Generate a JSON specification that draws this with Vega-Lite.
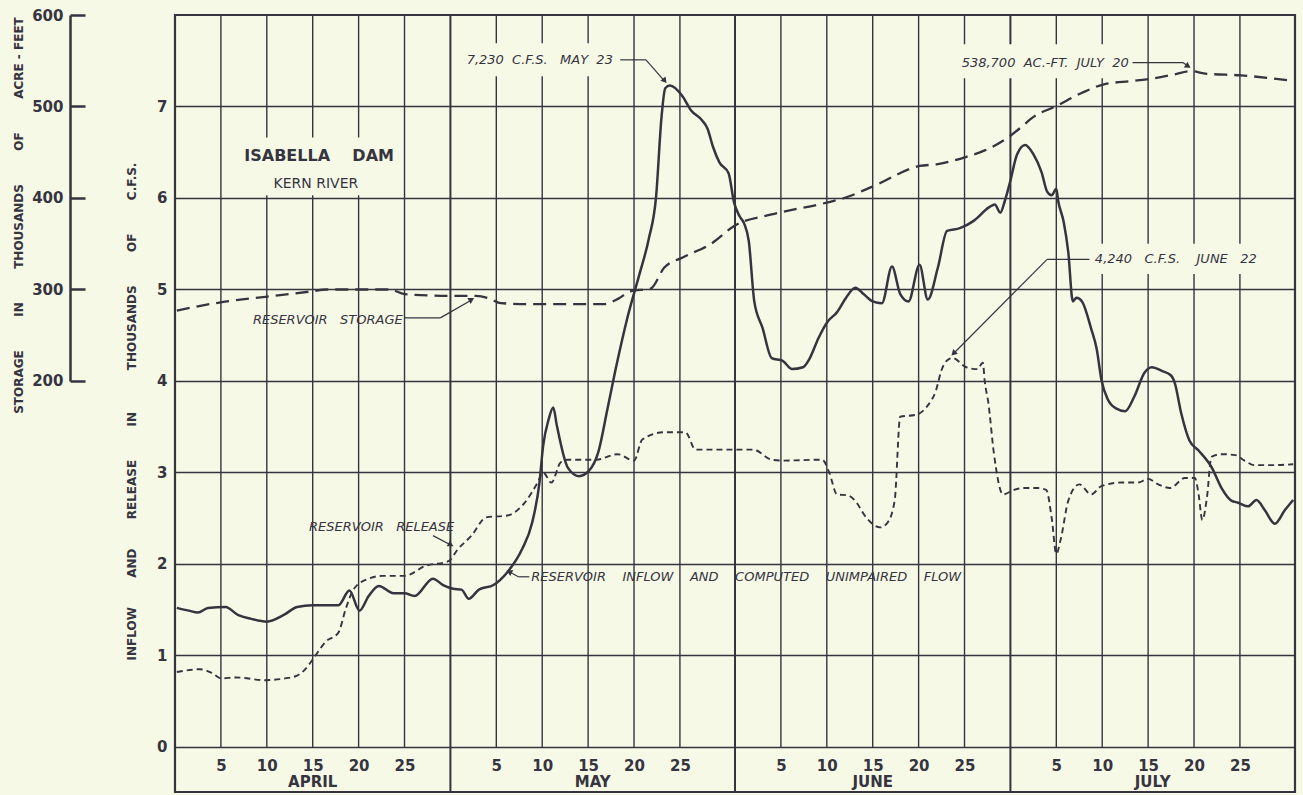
{
  "$schema": "https://vega.github.io/schema/vega-lite/v6.json",
  "width": 1120,
  "height": 777,
  "autosize": "none",
  "padding": {"left": 175, "top": 15, "right": 8, "bottom": 3},
  "background": "#f7f9e7",
  "config": {
    "view": {"stroke": "#35343f", "strokeWidth": 2.2},
    "font": "DejaVu Sans"
  },
  "datasets": {
    "dayTicks": [{"day": 5}, {"day": 10}, {"day": 15}, {"day": 20}, {"day": 25}, {"day": 35}, {"day": 40}, {"day": 45}, {"day": 50}, {"day": 55}, {"day": 66}, {"day": 71}, {"day": 76}, {"day": 81}, {"day": 86}, {"day": 96}, {"day": 101}, {"day": 106}, {"day": 111}, {"day": 116}],
    "monthEdges": [{"day": 30}, {"day": 61}, {"day": 91}],
    "months": [{"month": "APRIL", "mid": 15}, {"month": "MAY", "mid": 45.5}, {"month": "JUNE", "mid": 76}, {"month": "JULY", "mid": 106.5}],
    "inflow": [
      {"day": 0.2, "cfs": 1.52}, {"day": 1.5, "cfs": 1.49}, {"day": 2.5, "cfs": 1.47}, {"day": 3.6, "cfs": 1.52}, {"day": 5.5, "cfs": 1.53}, {"day": 6.9, "cfs": 1.44}, {"day": 8.3, "cfs": 1.40}, {"day": 10, "cfs": 1.37}, {"day": 11.8, "cfs": 1.44}, {"day": 13.3, "cfs": 1.53}, {"day": 15, "cfs": 1.55}, {"day": 17.8, "cfs": 1.55}, {"day": 19, "cfs": 1.71}, {"day": 20.1, "cfs": 1.49}, {"day": 21.1, "cfs": 1.65}, {"day": 22.2, "cfs": 1.76}, {"day": 23.8, "cfs": 1.68}, {"day": 25, "cfs": 1.68}, {"day": 26.1, "cfs": 1.65}, {"day": 28.1, "cfs": 1.84}, {"day": 29.2, "cfs": 1.77}, {"day": 30.3, "cfs": 1.73}, {"day": 31.2, "cfs": 1.72}, {"day": 32, "cfs": 1.62}, {"day": 33.1, "cfs": 1.72}, {"day": 34.7, "cfs": 1.77}, {"day": 36.2, "cfs": 1.91}, {"day": 37.8, "cfs": 2.16}, {"day": 38.9, "cfs": 2.45}, {"day": 39.7, "cfs": 2.89}, {"day": 40.1, "cfs": 3.29}, {"day": 40.7, "cfs": 3.58}, {"day": 41.2, "cfs": 3.71}, {"day": 41.6, "cfs": 3.51}, {"day": 42.8, "cfs": 3.05}, {"day": 44, "cfs": 2.96}, {"day": 45.1, "cfs": 3.02}, {"day": 46.1, "cfs": 3.22}, {"day": 47.1, "cfs": 3.69}, {"day": 48, "cfs": 4.13}, {"day": 49.3, "cfs": 4.70}, {"day": 50.6, "cfs": 5.17}, {"day": 51.6, "cfs": 5.55}, {"day": 52.4, "cfs": 6.01}, {"day": 53, "cfs": 6.89}, {"day": 53.4, "cfs": 7.20}, {"day": 53.9, "cfs": 7.23}, {"day": 55.3, "cfs": 7.11}, {"day": 56.2, "cfs": 6.96}, {"day": 57.4, "cfs": 6.85}, {"day": 58, "cfs": 6.76}, {"day": 58.6, "cfs": 6.56}, {"day": 59.3, "cfs": 6.39}, {"day": 60.3, "cfs": 6.27}, {"day": 60.9, "cfs": 5.95}, {"day": 61.5, "cfs": 5.80}, {"day": 62, "cfs": 5.72}, {"day": 62.5, "cfs": 5.53}, {"day": 63.1, "cfs": 4.87}, {"day": 64, "cfs": 4.58}, {"day": 65, "cfs": 4.25}, {"day": 66.2, "cfs": 4.22}, {"day": 67.2, "cfs": 4.13}, {"day": 68.4, "cfs": 4.15}, {"day": 69.1, "cfs": 4.24}, {"day": 70.1, "cfs": 4.47}, {"day": 71.1, "cfs": 4.65}, {"day": 72.1, "cfs": 4.75}, {"day": 73.1, "cfs": 4.91}, {"day": 74.1, "cfs": 5.02}, {"day": 75, "cfs": 4.95}, {"day": 76, "cfs": 4.87}, {"day": 77, "cfs": 4.85}, {"day": 78.1, "cfs": 5.25}, {"day": 79, "cfs": 4.95}, {"day": 79.9, "cfs": 4.87}, {"day": 81.1, "cfs": 5.27}, {"day": 82, "cfs": 4.89}, {"day": 83.1, "cfs": 5.24}, {"day": 84.1, "cfs": 5.64}, {"day": 85.5, "cfs": 5.67}, {"day": 87, "cfs": 5.75}, {"day": 88.7, "cfs": 5.90}, {"day": 89.3, "cfs": 5.93}, {"day": 89.9, "cfs": 5.84}, {"day": 90.4, "cfs": 5.97}, {"day": 91, "cfs": 6.19}, {"day": 91.7, "cfs": 6.47}, {"day": 92.6, "cfs": 6.58}, {"day": 93.5, "cfs": 6.48}, {"day": 94.4, "cfs": 6.28}, {"day": 95, "cfs": 6.07}, {"day": 95.5, "cfs": 6.03}, {"day": 96, "cfs": 6.10}, {"day": 96.2, "cfs": 5.97}, {"day": 96.8, "cfs": 5.74}, {"day": 97.3, "cfs": 5.41}, {"day": 97.8, "cfs": 4.87}, {"day": 98.2, "cfs": 4.91}, {"day": 98.8, "cfs": 4.87}, {"day": 99.8, "cfs": 4.57}, {"day": 100.4, "cfs": 4.35}, {"day": 100.9, "cfs": 4.02}, {"day": 101.6, "cfs": 3.80}, {"day": 102.5, "cfs": 3.70}, {"day": 103.5, "cfs": 3.67}, {"day": 104.5, "cfs": 3.83}, {"day": 105.6, "cfs": 4.09}, {"day": 106.4, "cfs": 4.15}, {"day": 107.5, "cfs": 4.11}, {"day": 108.5, "cfs": 4.06}, {"day": 108.9, "cfs": 3.98}, {"day": 109.6, "cfs": 3.65}, {"day": 110.5, "cfs": 3.35}, {"day": 111.5, "cfs": 3.24}, {"day": 112.9, "cfs": 3.06}, {"day": 114, "cfs": 2.83}, {"day": 115.1, "cfs": 2.69}, {"day": 115.8, "cfs": 2.67}, {"day": 116.9, "cfs": 2.63}, {"day": 117.8, "cfs": 2.70}, {"day": 118.7, "cfs": 2.59}, {"day": 119.8, "cfs": 2.44}, {"day": 120.9, "cfs": 2.59}, {"day": 121.8, "cfs": 2.70}
    ],
    "release": [
      {"day": 0.2, "cfs": 0.82}, {"day": 1.5, "cfs": 0.84}, {"day": 2.7, "cfs": 0.85}, {"day": 4, "cfs": 0.81}, {"day": 5, "cfs": 0.75}, {"day": 6.7, "cfs": 0.76}, {"day": 9.8, "cfs": 0.73}, {"day": 12, "cfs": 0.75}, {"day": 13.3, "cfs": 0.78}, {"day": 14.1, "cfs": 0.84}, {"day": 15.3, "cfs": 1.0}, {"day": 16.4, "cfs": 1.15}, {"day": 17.8, "cfs": 1.25}, {"day": 18.6, "cfs": 1.51}, {"day": 19.5, "cfs": 1.73}, {"day": 21.1, "cfs": 1.84}, {"day": 22.6, "cfs": 1.87}, {"day": 25, "cfs": 1.87}, {"day": 27.3, "cfs": 1.98}, {"day": 29.8, "cfs": 2.03}, {"day": 30.8, "cfs": 2.16}, {"day": 32.3, "cfs": 2.31}, {"day": 33.9, "cfs": 2.51}, {"day": 36.2, "cfs": 2.53}, {"day": 38.1, "cfs": 2.67}, {"day": 39.5, "cfs": 2.89}, {"day": 40.1, "cfs": 3.0}, {"day": 41, "cfs": 2.89}, {"day": 42, "cfs": 3.11}, {"day": 42.8, "cfs": 3.14}, {"day": 45.9, "cfs": 3.14}, {"day": 48.2, "cfs": 3.20}, {"day": 50, "cfs": 3.13}, {"day": 50.9, "cfs": 3.36}, {"day": 53.3, "cfs": 3.44}, {"day": 55.6, "cfs": 3.44}, {"day": 56.7, "cfs": 3.25}, {"day": 61, "cfs": 3.25}, {"day": 63, "cfs": 3.25}, {"day": 65, "cfs": 3.14}, {"day": 66.2, "cfs": 3.13}, {"day": 70.5, "cfs": 3.14}, {"day": 71.3, "cfs": 2.99}, {"day": 72.1, "cfs": 2.76}, {"day": 73.3, "cfs": 2.75}, {"day": 74.1, "cfs": 2.69}, {"day": 75.2, "cfs": 2.52}, {"day": 76.8, "cfs": 2.40}, {"day": 77.6, "cfs": 2.45}, {"day": 78.4, "cfs": 2.70}, {"day": 79, "cfs": 3.61}, {"day": 80.7, "cfs": 3.63}, {"day": 81.9, "cfs": 3.72}, {"day": 82.9, "cfs": 3.90}, {"day": 83.5, "cfs": 4.12}, {"day": 84.3, "cfs": 4.24}, {"day": 84.7, "cfs": 4.25}, {"day": 86.2, "cfs": 4.15}, {"day": 87.4, "cfs": 4.13}, {"day": 88, "cfs": 4.20}, {"day": 88.2, "cfs": 4.0}, {"day": 88.6, "cfs": 3.76}, {"day": 89.2, "cfs": 3.21}, {"day": 90.2, "cfs": 2.76}, {"day": 91.4, "cfs": 2.81}, {"day": 92.5, "cfs": 2.83}, {"day": 94, "cfs": 2.83}, {"day": 94.9, "cfs": 2.81}, {"day": 95.5, "cfs": 2.50}, {"day": 96, "cfs": 2.11}, {"day": 96.5, "cfs": 2.28}, {"day": 97.3, "cfs": 2.69}, {"day": 98.5, "cfs": 2.87}, {"day": 99.8, "cfs": 2.76}, {"day": 100.9, "cfs": 2.85}, {"day": 103.1, "cfs": 2.89}, {"day": 104.9, "cfs": 2.89}, {"day": 106, "cfs": 2.93}, {"day": 107.1, "cfs": 2.87}, {"day": 108.4, "cfs": 2.83}, {"day": 110, "cfs": 2.94}, {"day": 111.1, "cfs": 2.94}, {"day": 111.5, "cfs": 2.76}, {"day": 111.9, "cfs": 2.48}, {"day": 112.4, "cfs": 2.72}, {"day": 112.9, "cfs": 3.17}, {"day": 114, "cfs": 3.20}, {"day": 115.5, "cfs": 3.19}, {"day": 116.5, "cfs": 3.13}, {"day": 117.6, "cfs": 3.08}, {"day": 119.5, "cfs": 3.08}, {"day": 121.8, "cfs": 3.09}
    ],
    "storage": [
      {"day": 0.2, "acft": 277}, {"day": 5, "acft": 286}, {"day": 9.85, "acft": 292}, {"day": 14.9, "acft": 298}, {"day": 16.5, "acft": 300}, {"day": 23.4, "acft": 300}, {"day": 25, "acft": 295}, {"day": 30, "acft": 293}, {"day": 32.8, "acft": 293}, {"day": 34.3, "acft": 290}, {"day": 35.5, "acft": 285}, {"day": 39, "acft": 284}, {"day": 46.7, "acft": 284}, {"day": 48.3, "acft": 290}, {"day": 49.6, "acft": 298}, {"day": 51.8, "acft": 301}, {"day": 53.3, "acft": 324}, {"day": 55.3, "acft": 335}, {"day": 58.4, "acft": 350}, {"day": 61, "acft": 370}, {"day": 65, "acft": 382}, {"day": 71, "acft": 395}, {"day": 72.9, "acft": 400}, {"day": 76.1, "acft": 413}, {"day": 81.1, "acft": 435}, {"day": 83.1, "acft": 437}, {"day": 86.2, "acft": 445}, {"day": 88.2, "acft": 452}, {"day": 91, "acft": 468}, {"day": 92.6, "acft": 481}, {"day": 93.3, "acft": 487}, {"day": 96.1, "acft": 501}, {"day": 98.8, "acft": 515}, {"day": 101.1, "acft": 524}, {"day": 104.3, "acft": 528}, {"day": 106.7, "acft": 531}, {"day": 108.8, "acft": 535}, {"day": 110.6, "acft": 538.7}, {"day": 112.2, "acft": 536}, {"day": 116.1, "acft": 534}, {"day": 119.3, "acft": 531}, {"day": 121.8, "acft": 528}
    ]
  },
  "layer": [
    {
      "layer": [
        {
          "data": {"name": "dayTicks"},
          "mark": {"type": "rule", "color": "#35343f", "strokeWidth": 1.4},
          "encoding": {
            "x": {"field": "day", "type": "quantitative", "scale": {"domain": [0, 122], "nice": false, "zero": false}},
            "y": {"datum": 0, "type": "quantitative", "scale": {"domain": [-0.492, 8], "nice": false, "zero": false}},
            "y2": {"datum": 8}
          }
        },
        {
          "data": {"name": "monthEdges"},
          "mark": {"type": "rule", "color": "#35343f", "strokeWidth": 2},
          "encoding": {
            "x": {"field": "day", "type": "quantitative"},
            "y": {"datum": -0.492, "type": "quantitative"},
            "y2": {"datum": 8}
          }
        },
        {
          "data": {"values": [{}]},
          "mark": {"type": "rect", "color": "#f7f9e7"},
          "encoding": {"x": {"datum": 6.6, "type": "quantitative"}, "x2": {"datum": 24.4}, "y": {"datum": 6.03, "type": "quantitative"}, "y2": {"datum": 6.66}}
        },
        {
          "data": {"values": [{}]},
          "mark": {"type": "rect", "color": "#f7f9e7"},
          "encoding": {"x": {"datum": 31.2, "type": "quantitative"}, "x2": {"datum": 48.2}, "y": {"datum": 7.33, "type": "quantitative"}, "y2": {"datum": 7.69}}
        },
        {
          "data": {"values": [{}]},
          "mark": {"type": "rect", "color": "#f7f9e7"},
          "encoding": {"x": {"datum": 83.4, "type": "quantitative"}, "x2": {"datum": 104.3}, "y": {"datum": 7.31, "type": "quantitative"}, "y2": {"datum": 7.68}}
        },
        {
          "data": {"values": [{}]},
          "mark": {"type": "rect", "color": "#f7f9e7"},
          "encoding": {"x": {"datum": 99.8, "type": "quantitative"}, "x2": {"datum": 118.2}, "y": {"datum": 5.17, "type": "quantitative"}, "y2": {"datum": 5.5}}
        },
        {
          "data": {"name": "months"},
          "mark": {"type": "text", "fontSize": 15, "fontWeight": "bold", "color": "#35343f", "baseline": "middle", "align": "center"},
          "encoding": {
            "x": {"field": "mid", "type": "quantitative"},
            "y": {"datum": -0.385, "type": "quantitative"},
            "text": {"field": "month"}
          }
        },
        {
          "data": {"values": [{}]},
          "mark": {"type": "text", "fontSize": 16, "fontWeight": "bold", "color": "#35343f", "baseline": "middle", "align": "center"},
          "encoding": {"x": {"datum": 15.7, "type": "quantitative"}, "y": {"datum": 6.46, "type": "quantitative"}, "text": {"value": "ISABELLA\u00a0\u00a0\u00a0\u00a0DAM"}}
        },
        {
          "data": {"values": [{}]},
          "mark": {"type": "text", "fontSize": 14, "color": "#35343f", "baseline": "middle", "align": "center"},
          "encoding": {"x": {"datum": 15.35, "type": "quantitative"}, "y": {"datum": 6.15, "type": "quantitative"}, "text": {"value": "KERN\u00a0RIVER"}}
        },
        {
          "data": {"values": [{}]},
          "mark": {"type": "text", "fontSize": 13, "fontStyle": "italic", "color": "#35343f", "baseline": "middle", "align": "right"},
          "encoding": {"x": {"datum": 47.7, "type": "quantitative"}, "y": {"datum": 7.51, "type": "quantitative"}, "text": {"value": "7,230\u00a0\u00a0C.F.S.\u00a0\u00a0\u00a0MAY\u00a0\u00a023"}}
        },
        {
          "data": {"values": [{}]},
          "mark": {"type": "text", "fontSize": 13, "fontStyle": "italic", "color": "#35343f", "baseline": "middle", "align": "right"},
          "encoding": {"x": {"datum": 103.9, "type": "quantitative"}, "y": {"datum": 7.48, "type": "quantitative"}, "text": {"value": "538,700\u00a0\u00a0AC.-FT.\u00a0\u00a0JULY\u00a0\u00a020"}}
        },
        {
          "data": {"values": [{}]},
          "mark": {"type": "text", "fontSize": 13, "fontStyle": "italic", "color": "#35343f", "baseline": "middle", "align": "left"},
          "encoding": {"x": {"datum": 100.2, "type": "quantitative"}, "y": {"datum": 5.33, "type": "quantitative"}, "text": {"value": "4,240\u00a0\u00a0\u00a0C.F.S.\u00a0\u00a0\u00a0\u00a0JUNE\u00a0\u00a0\u00a022"}}
        },
        {
          "data": {"values": [{}]},
          "mark": {"type": "text", "fontSize": 13, "fontStyle": "italic", "color": "#35343f", "baseline": "middle", "align": "right"},
          "encoding": {"x": {"datum": 24.8, "type": "quantitative"}, "y": {"datum": 4.67, "type": "quantitative"}, "text": {"value": "RESERVOIR\u00a0\u00a0\u00a0STORAGE"}}
        },
        {
          "data": {"values": [{}]},
          "mark": {"type": "text", "fontSize": 13, "fontStyle": "italic", "color": "#35343f", "baseline": "middle", "align": "left"},
          "encoding": {"x": {"datum": 14.6, "type": "quantitative"}, "y": {"datum": 2.40, "type": "quantitative"}, "text": {"value": "RESERVOIR\u00a0\u00a0\u00a0RELEASE"}}
        },
        {
          "data": {"values": [{}]},
          "mark": {"type": "text", "fontSize": 13, "fontStyle": "italic", "color": "#35343f", "baseline": "middle", "align": "left"},
          "encoding": {"x": {"datum": 38.8, "type": "quantitative"}, "y": {"datum": 1.86, "type": "quantitative"}, "text": {"value": "RESERVOIR\u00a0\u00a0\u00a0\u00a0INFLOW\u00a0\u00a0\u00a0\u00a0AND\u00a0\u00a0\u00a0\u00a0COMPUTED\u00a0\u00a0\u00a0\u00a0UNIMPAIRED\u00a0\u00a0\u00a0\u00a0FLOW"}}
        },
        {
          "data": {"values": [{}]},
          "mark": {"type": "rule", "color": "#35343f", "strokeWidth": 1.2},
          "encoding": {"x": {"datum": 48.5, "type": "quantitative"}, "x2": {"datum": 51.3}, "y": {"datum": 7.51, "type": "quantitative"}, "y2": {"datum": 7.51}}
        },
        {
          "data": {"values": [{}]},
          "mark": {"type": "rule", "color": "#35343f", "strokeWidth": 1.2},
          "encoding": {"x": {"datum": 51.3, "type": "quantitative"}, "x2": {"datum": 53.4}, "y": {"datum": 7.51, "type": "quantitative"}, "y2": {"datum": 7.27}}
        },
        {
          "data": {"values": [{}]},
          "mark": {"type": "point", "shape": "triangle-up", "filled": true, "size": 45, "angle": 140, "color": "#35343f", "opacity": 1},
          "encoding": {"x": {"datum": 53.35, "type": "quantitative"}, "y": {"datum": 7.28, "type": "quantitative"}}
        },
        {
          "data": {"values": [{}]},
          "mark": {"type": "rule", "color": "#35343f", "strokeWidth": 1.2},
          "encoding": {"x": {"datum": 104.3, "type": "quantitative"}, "x2": {"datum": 109.8}, "y": {"datum": 7.48, "type": "quantitative"}, "y2": {"datum": 7.48}}
        },
        {
          "data": {"values": [{}]},
          "mark": {"type": "rule", "color": "#35343f", "strokeWidth": 1.2},
          "encoding": {"x": {"datum": 109.8, "type": "quantitative"}, "x2": {"datum": 110.5}, "y": {"datum": 7.48, "type": "quantitative"}, "y2": {"datum": 7.43}}
        },
        {
          "data": {"values": [{}]},
          "mark": {"type": "point", "shape": "triangle-up", "filled": true, "size": 45, "angle": 124, "color": "#35343f", "opacity": 1},
          "encoding": {"x": {"datum": 110.35, "type": "quantitative"}, "y": {"datum": 7.44, "type": "quantitative"}}
        },
        {
          "data": {"values": [{}]},
          "mark": {"type": "rule", "color": "#35343f", "strokeWidth": 1.2},
          "encoding": {"x": {"datum": 99.6, "type": "quantitative"}, "x2": {"datum": 95.0}, "y": {"datum": 5.33, "type": "quantitative"}, "y2": {"datum": 5.33}}
        },
        {
          "data": {"values": [{}]},
          "mark": {"type": "rule", "color": "#35343f", "strokeWidth": 1.2},
          "encoding": {"x": {"datum": 95.0, "type": "quantitative"}, "x2": {"datum": 84.7}, "y": {"datum": 5.33, "type": "quantitative"}, "y2": {"datum": 4.29}}
        },
        {
          "data": {"values": [{}]},
          "mark": {"type": "point", "shape": "triangle-up", "filled": true, "size": 45, "angle": 225, "color": "#35343f", "opacity": 1},
          "encoding": {"x": {"datum": 84.8, "type": "quantitative"}, "y": {"datum": 4.30, "type": "quantitative"}}
        },
        {
          "data": {"values": [{}]},
          "mark": {"type": "rule", "color": "#35343f", "strokeWidth": 1.2},
          "encoding": {"x": {"datum": 25.0, "type": "quantitative"}, "x2": {"datum": 28.9}, "y": {"datum": 4.69, "type": "quantitative"}, "y2": {"datum": 4.69}}
        },
        {
          "data": {"values": [{}]},
          "mark": {"type": "rule", "color": "#35343f", "strokeWidth": 1.2},
          "encoding": {"x": {"datum": 28.9, "type": "quantitative"}, "x2": {"datum": 32.4}, "y": {"datum": 4.69, "type": "quantitative"}, "y2": {"datum": 4.89}}
        },
        {
          "data": {"values": [{}]},
          "mark": {"type": "point", "shape": "triangle-up", "filled": true, "size": 45, "angle": 60, "color": "#35343f", "opacity": 1},
          "encoding": {"x": {"datum": 32.3, "type": "quantitative"}, "y": {"datum": 4.89, "type": "quantitative"}}
        },
        {
          "data": {"values": [{}]},
          "mark": {"type": "rule", "color": "#35343f", "strokeWidth": 1.2},
          "encoding": {"x": {"datum": 28.1, "type": "quantitative"}, "x2": {"datum": 30.2}, "y": {"datum": 2.31, "type": "quantitative"}, "y2": {"datum": 2.20}}
        },
        {
          "data": {"values": [{}]},
          "mark": {"type": "point", "shape": "triangle-up", "filled": true, "size": 45, "angle": 119, "color": "#35343f", "opacity": 1},
          "encoding": {"x": {"datum": 30.05, "type": "quantitative"}, "y": {"datum": 2.21, "type": "quantitative"}}
        },
        {
          "data": {"values": [{}]},
          "mark": {"type": "rule", "color": "#35343f", "strokeWidth": 1.2},
          "encoding": {"x": {"datum": 38.6, "type": "quantitative"}, "x2": {"datum": 37.4}, "y": {"datum": 1.86, "type": "quantitative"}, "y2": {"datum": 1.86}}
        },
        {
          "data": {"values": [{}]},
          "mark": {"type": "rule", "color": "#35343f", "strokeWidth": 1.2},
          "encoding": {"x": {"datum": 37.4, "type": "quantitative"}, "x2": {"datum": 36.3}, "y": {"datum": 1.86, "type": "quantitative"}, "y2": {"datum": 1.92}}
        },
        {
          "data": {"values": [{}]},
          "mark": {"type": "point", "shape": "triangle-up", "filled": true, "size": 45, "angle": 296, "color": "#35343f", "opacity": 1},
          "encoding": {"x": {"datum": 36.4, "type": "quantitative"}, "y": {"datum": 1.915, "type": "quantitative"}}
        },
        {
          "data": {"name": "release"},
          "mark": {"type": "line", "interpolate": "monotone", "color": "#35343f", "strokeWidth": 1.9, "strokeDash": [6, 4]},
          "encoding": {
            "x": {"field": "day", "type": "quantitative"},
            "y": {"field": "cfs", "type": "quantitative"}
          }
        },
        {
          "data": {"name": "inflow"},
          "mark": {"type": "line", "interpolate": "monotone", "color": "#35343f", "strokeWidth": 2.5},
          "encoding": {
            "x": {"field": "day", "type": "quantitative", "scale": {"domain": [0, 122], "nice": false, "zero": false},
              "axis": {"orient": "bottom", "offset": -45, "values": [5, 10, 15, 20, 25, 35, 40, 45, 50, 55, 66, 71, 76, 81, 86, 96, 101, 106, 111, 116],
                "labelExpr": "'' + (datum.value < 30 ? datum.value : datum.value < 61 ? datum.value - 30 : datum.value < 91 ? datum.value - 61 : datum.value - 91)",
                "domain": false, "ticks": false, "grid": false, "labelPadding": 18, "labelBaseline": "middle", "labelFontSize": 15, "labelFontWeight": "bold", "labelColor": "#35343f", "labelFlush": false, "labelOverlap": false, "title": null}},
            "y": {"field": "cfs", "type": "quantitative", "scale": {"domain": [-0.492, 8], "nice": false, "zero": false},
              "axis": {"orient": "left", "values": [0, 1, 2, 3, 4, 5, 6, 7], "format": "d", "grid": true, "gridColor": "#35343f", "gridWidth": 1.4, "gridOpacity": 1,
                "domain": false, "ticks": false, "labelPadding": 8, "labelFontSize": 15, "labelFontWeight": "bold", "labelColor": "#35343f", "labelFlush": false, "labelOverlap": false,
                "title": "INFLOW\u00a0\u00a0\u00a0\u00a0\u00a0\u00a0\u00a0AND\u00a0\u00a0\u00a0\u00a0\u00a0\u00a0\u00a0RELEASE\u00a0\u00a0\u00a0\u00a0\u00a0\u00a0\u00a0\u00a0IN\u00a0\u00a0\u00a0\u00a0\u00a0\u00a0\u00a0\u00a0\u00a0\u00a0THOUSANDS\u00a0\u00a0\u00a0\u00a0\u00a0\u00a0\u00a0\u00a0OF\u00a0\u00a0\u00a0\u00a0\u00a0\u00a0\u00a0\u00a0C.F.S.",
                "titleFontSize": 12, "titleFontWeight": "bold", "titleColor": "#35343f", "titleX": -37, "titleY": 396}}
          }
        }
      ]
    },
    {
      "data": {"name": "storage"},
      "mark": {"type": "line", "interpolate": "monotone", "color": "#35343f", "strokeWidth": 2.3, "strokeDash": [13, 7]},
      "encoding": {
        "x": {"field": "day", "type": "quantitative"},
        "y": {"field": "acft", "type": "quantitative", "scale": {"domain": [-249.2, 600], "nice": false, "zero": false},
          "axis": {"orient": "left", "offset": 105, "values": [200, 300, 400, 500, 600], "format": "d", "grid": false,
            "domain": true, "domainColor": "#35343f", "domainWidth": 2.5, "domainDash": [0, 411, 367, 1000],
            "ticks": true, "tickColor": "#35343f", "tickWidth": 2.5, "tickSize": -15,
            "labelPadding": 22, "labelFontSize": 15, "labelFontWeight": "bold", "labelColor": "#35343f", "labelFlush": false, "labelOverlap": false,
            "title": "STORAGE\u00a0\u00a0\u00a0\u00a0\u00a0\u00a0\u00a0\u00a0IN\u00a0\u00a0\u00a0\u00a0\u00a0\u00a0\u00a0\u00a0THOUSANDS\u00a0\u00a0\u00a0\u00a0\u00a0\u00a0\u00a0\u00a0OF\u00a0\u00a0\u00a0\u00a0\u00a0\u00a0\u00a0\u00a0ACRE\u00a0-\u00a0FEET",
            "titleFontSize": 12, "titleFontWeight": "bold", "titleColor": "#35343f", "titleX": -45, "titleY": 200}}
      }
    }
  ],
  "resolve": {"scale": {"y": "independent"}, "axis": {"y": "independent"}}
}
